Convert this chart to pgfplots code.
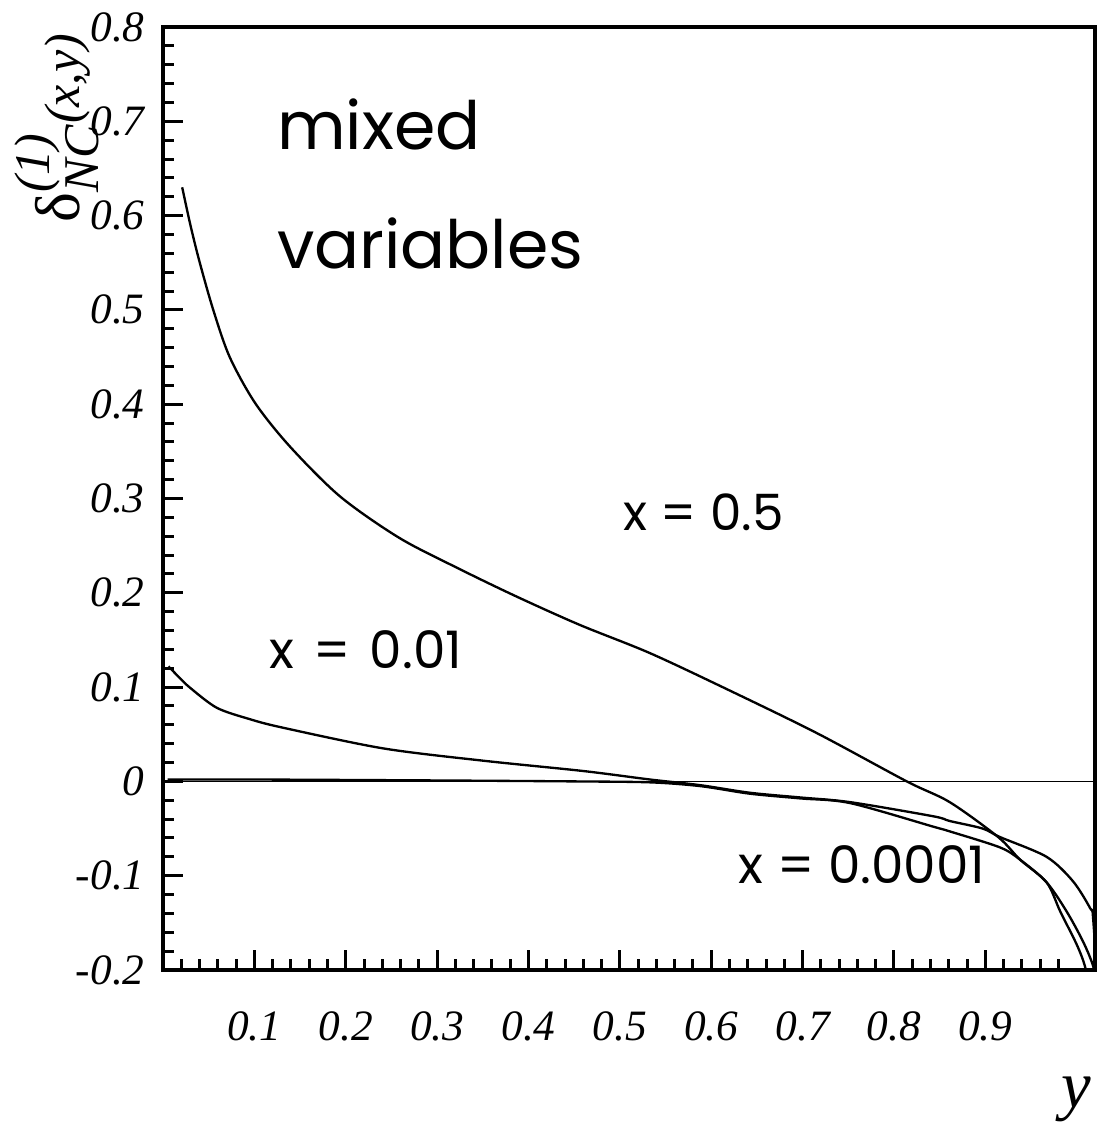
\documentclass[border=0pt]{standalone}
\usepackage{fontspec}
\setmainfont{Liberation Serif}
\newfontfamily\poppins{Poppins}
\usepackage{pgfplots}
\pgfplotsset{compat=1.18}

\begin{document}
\begin{tikzpicture}
\begin{axis}[
  scale only axis,
  width=279.6pt, height=282.9pt,
  xmin=0, xmax=1.02, ymin=-0.2, ymax=0.8,
  clip mode=individual,
  axis line style={line width=1.0pt},
  tick pos=left, tick align=inside,
  major tick length=6pt, minor tick length=3.2pt,
  every tick/.style={line width=0.9pt, black},
  xtick={0.1,0.2,0.3,0.4,0.5,0.6,0.7,0.8,0.9},
  xticklabels={0.1,0.2,0.3,0.4,0.5,0.6,0.7,0.8,0.9},
  minor xtick={0.02,0.04,0.06,0.08,0.12,0.14,0.16,0.18,0.22,0.24,0.26,0.28,0.32,0.34,0.36,0.38,0.42,0.44,0.46,0.48,0.52,0.54,0.56,0.58,0.62,0.64,0.66,0.68,0.72,0.74,0.76,0.78,0.82,0.84,0.86,0.88,0.92,0.94,0.96,0.98},
  ytick={-0.2,-0.1,0,0.1,0.2,0.3,0.4,0.5,0.6,0.7,0.8},
  yticklabels={-0.2,-0.1,0,0.1,0.2,0.3,0.4,0.5,0.6,0.7,0.8},
  minor ytick={-0.18,-0.16,-0.14,-0.12,-0.08,-0.06,-0.04,-0.02,0.02,0.04,0.06,0.08,0.12,0.14,0.16,0.18,0.22,0.24,0.26,0.28,0.32,0.34,0.36,0.38,0.42,0.44,0.46,0.48,0.52,0.54,0.56,0.58,0.62,0.64,0.66,0.68,0.72,0.74,0.76,0.78},
  tick label style={font=\fontsize{13}{13}\selectfont\itshape},
  xticklabel style={yshift=-9pt},
  yticklabel style={xshift=-2pt},
]
% zero line
\addplot[black, line width=0.5pt] coordinates {(0,0) (1.02,0)};
% x = 0.5
\addplot[black, line width=0.7pt, smooth] coordinates {
(0.021,0.630) (0.030,0.590) (0.040,0.551) (0.055,0.500) (0.073,0.450) (0.101,0.401)
(0.139,0.355) (0.194,0.302) (0.259,0.258) (0.325,0.225) (0.387,0.196) (0.456,0.166)
(0.533,0.136) (0.621,0.096) (0.716,0.051) (0.814,0.000) (0.861,-0.022) (0.914,-0.059)
(0.938,-0.083) (0.967,-0.107) (0.982,-0.138) (1.000,-0.173) (1.009,-0.196) (1.013,-0.22)};
% x = 0.01
\addplot[black, line width=0.7pt, smooth] coordinates {
(0.006,0.122) (0.018,0.110) (0.030,0.099) (0.059,0.078) (0.095,0.066) (0.131,0.057) (0.241,0.035) (0.350,0.022)
(0.460,0.011) (0.533,0.002) (0.588,-0.004) (0.642,-0.012) (0.697,-0.017) (0.752,-0.022)
(0.843,-0.037) (0.861,-0.042) (0.897,-0.050) (0.916,-0.059) (0.967,-0.080) (0.996,-0.106)
(1.015,-0.135) (1.018,-0.146) (1.025,-0.25)};
% x = 0.0001
\addplot[black, line width=0.7pt, smooth] coordinates {
(0.005,0.002) (0.100,0.002) (0.300,0.001) (0.450,0.000) (0.533,-0.001) (0.588,-0.005)
(0.642,-0.013) (0.697,-0.018) (0.752,-0.023) (0.843,-0.048) (0.861,-0.053) (0.916,-0.070)
(0.938,-0.083) (0.967,-0.107) (0.989,-0.138) (1.007,-0.170) (1.018,-0.196) (1.022,-0.22)};

\node[anchor=base west, font=\poppins\fontsize{20}{20}\selectfont] at (axis cs:0.112,0.67) {mixed};
\node[anchor=base west, font=\poppins\fontsize{20}{20}\selectfont] at (axis cs:0.112,0.544) {variables};
\node[anchor=base west, font=\poppins\fontsize{15}{15}\selectfont] at (axis cs:0.491,0.266) {x = 0.5};
\node[anchor=base west, font=\poppins\fontsize{15.5}{15.5}\selectfont] at (axis cs:0.104,0.120) {x\hspace{0.1em} = \hspace{0.1em}0.01};
\node[anchor=base west, font=\poppins\fontsize{15.5}{15.5}\selectfont] at (axis cs:0.617,-0.108) {x = 0.0001};

\node[rotate=90, font=\fontsize{15}{15}\selectfont] at (rel axis cs:-0.114,0.893)
  {$\mbox{\fontsize{19}{19}\selectfont δ}^{\textit{(1)}}_{\textit{NC}}$\textit{(x,y)}};
\node[font=\fontsize{20}{20}\selectfont\itshape] at (rel axis cs:0.980,-0.137) {y};
\end{axis}
\pgfresetboundingbox
\path ([shift={(-48.9pt,-46.2pt)}]current axis.south west) rectangle ([shift={(2.7pt,8.1pt)}]current axis.north east);
\end{tikzpicture}
\end{document}
